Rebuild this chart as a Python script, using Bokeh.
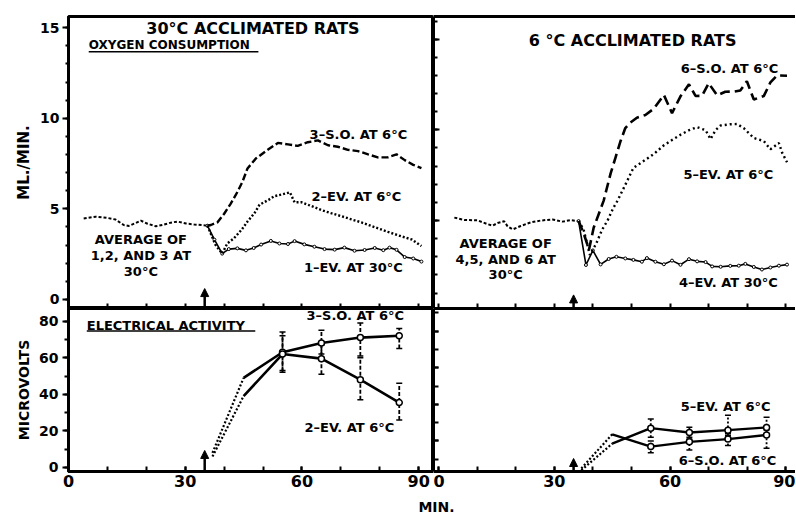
from bokeh.plotting import figure
from bokeh.layouts import column, row
from bokeh.models import (Range1d, Label, Arrow, NormalHead, Whisker, TeeHead,
                          ColumnDataSource, LinearAxis, SingleIntervalTicker,
                          CustomJSTickFormatter)
from bokeh.embed import file_html
from bokeh.resources import INLINE

FONT = "DejaVu Sans"

# ---------------- data ----------------
# time of the change of ambient temperature (arrow), minutes
arrow_time = 35

# --- 30 C acclimated rats: oxygen consumption (ml/min) ---
avg123_t = [3.9, 7.0, 10.0, 12.1, 14.2, 15.5, 17.3, 18.6, 20.3, 22.4, 24.1, 26.3, 28.0, 30.2, 32.3, 34.4, 35.7]
avg123_v = [4.47, 4.57, 4.50, 4.41, 4.11, 4.06, 4.22, 4.35, 4.18, 4.04, 4.11, 4.24, 4.30, 4.19, 4.14, 4.10, 4.07]

ev30_1_t = [35.7, 37.5, 39.5, 41.2, 43.4, 45.6, 47.6, 49.5, 52.0, 54.2, 56.4, 58.1, 60.6, 63.2,
            65.8, 68.4, 70.9, 73.5, 76.1, 78.7, 80.9, 82.5, 84.3, 86.4, 88.6, 90.7]
ev30_1_v = [4.07, 3.30, 2.53, 2.78, 2.82, 2.71, 2.84, 3.03, 3.23, 3.09, 3.06, 3.22, 3.04, 2.91,
            2.78, 2.75, 2.86, 2.69, 2.73, 2.84, 2.72, 2.86, 2.74, 2.34, 2.26, 2.09]

ev6_2_t = [35.7, 37.8, 39.5, 40.8, 42.5, 44.5, 46.0, 47.8, 49.1, 51.5, 52.9, 55.1, 56.9, 58.1,
           59.8, 61.9, 65.0, 67.5, 70.1, 72.7, 75.3, 78.7, 82.1, 85.6, 88.2, 90.7]
ev6_2_v = [4.07, 3.00, 2.53, 3.09, 3.37, 3.85, 4.30, 4.77, 5.23, 5.51, 5.70, 5.81, 5.91, 5.36,
           5.37, 5.20, 4.93, 4.76, 4.60, 4.42, 4.25, 3.99, 3.73, 3.48, 3.31, 2.95]

so6_3_t = [35.7, 36.6, 38.3, 40.0, 41.7, 43.4, 44.7, 46.0, 48.2, 51.2, 53.8, 56.4, 58.9, 61.5,
           64.1, 66.7, 69.2, 71.8, 74.4, 77.0, 79.5, 82.1, 84.3, 86.4, 88.6, 90.7]
so6_3_v = [4.07, 4.11, 4.26, 4.73, 5.29, 5.93, 6.49, 7.23, 7.79, 8.26, 8.64, 8.56, 8.48, 8.68,
           8.78, 8.51, 8.43, 8.26, 8.19, 8.01, 7.84, 7.85, 8.01, 7.69, 7.43, 7.25]

# --- 6 C acclimated rats: oxygen consumption (ml/min) ---
avg456_t = [4.1, 6.7, 10.1, 12.7, 14.0, 15.3, 17.0, 17.9, 19.2, 21.3, 23.9, 26.5, 29.5, 32.1, 34.2, 36.3]
avg456_v = [5.16, 5.03, 5.01, 4.80, 4.72, 4.86, 4.96, 4.68, 4.51, 4.70, 4.90, 5.00, 5.06, 4.94, 5.02, 4.97]

ev30_4_t = [36.3, 38.2, 40.0, 42.0, 44.1, 46.1, 48.4, 50.5, 52.7, 54.0, 56.2, 58.4, 60.5, 62.7,
            64.9, 67.0, 69.2, 70.9, 73.1, 75.6, 77.8, 79.5, 81.7, 83.8, 86.0, 88.2, 90.3]
ev30_4_v = [4.97, 2.55, 3.35, 2.58, 2.88, 3.00, 2.91, 2.83, 2.73, 2.93, 2.73, 2.59, 2.79, 2.56,
            2.87, 2.75, 2.71, 2.47, 2.45, 2.50, 2.51, 2.61, 2.44, 2.30, 2.41, 2.51, 2.57]

ev6_5_t = [36.3, 37.6, 39.2, 40.8, 42.4, 43.8, 45.3, 46.4, 48.4, 50.5, 53.2, 55.8, 58.4, 60.5, 62.7,
           64.9, 67.0, 69.2, 70.5, 71.8, 73.1, 75.6, 77.4, 79.1, 81.7, 84.3, 86.0, 88.2, 89.0, 90.3]
ev6_5_v = [4.97, 4.50, 3.10, 3.70, 4.50, 5.00, 5.70, 6.10, 6.97, 7.90, 8.29, 8.67, 9.15, 9.44, 9.73,
           9.98, 10.15, 9.98, 9.49, 9.99, 10.24, 10.31, 10.32, 10.09, 9.55, 9.38, 8.93, 9.27, 8.76, 8.21]

so6_6_t = [36.3, 37.6, 39.0, 40.2, 42.8, 44.6, 45.9, 47.2, 48.4, 49.7, 51.4, 53.6, 55.8, 58.4, 60.5,
           62.7, 64.9, 66.6, 68.3, 70.0, 72.2, 74.3, 76.5, 78.2, 79.9, 81.7, 84.3, 86.0, 87.7, 90.3]
so6_6_v = [4.97, 4.30, 3.40, 4.60, 6.10, 7.60, 8.50, 9.40, 10.10, 10.40, 10.67, 10.82, 11.17, 11.92, 10.92,
           11.85, 12.51, 11.87, 11.88, 12.57, 11.90, 12.10, 12.11, 12.17, 12.68, 11.67, 11.87, 12.62, 13.00, 12.98]

# --- electrical activity (microvolts) ---
ea_rise_t = [37, 45]          # dotted part
ea_t = [45, 55, 65, 75, 85]   # solid part
ea_err_t = [55, 65, 75, 85]

so3_rise = [8, 49]
so3_v = [49, 63, 68, 71, 72]
so3_lo = [53, 62, 61, 65]
so3_hi = [74, 75, 79, 76]

ev2_rise = [6, 39]
ev2_v = [39, 62, 59.5, 48, 35.5]
ev2_lo = [52, 51, 37, 26]
ev2_hi = [72, 67, 60, 46]

ev5_rise = [4, 18.5]
ev5_v = [18.5, 27, 24.6, 25.9, 27.4]
ev5_lo = [22, 22, 23, 24]
ev5_hi = [32, 27.5, 34, 33]

so6_rise = [5, 23.6]
so6_v = [23.6, 16.9, 19.5, 21.0, 23.3]
so6_lo = [13.5, 15, 17.5, 16]
so6_hi = [20, 21, 24, 26]

# ---------------- helpers ----------------
def base_fig(width, height, xr, yr, left, top, bottom):
    p = figure(width=width, height=height, x_range=Range1d(*xr), y_range=Range1d(*yr),
               output_backend="svg", toolbar_location=None, tools="",
               x_axis_location=None, y_axis_location=None,
               min_border=0, min_border_left=left, min_border_right=0,
               min_border_top=top, min_border_bottom=bottom)
    p.xgrid.grid_line_color = None
    p.ygrid.grid_line_color = None
    p.outline_line_color = None
    p.background_fill_color = "white"
    p.border_fill_color = "white"
    return p


def add_axis(p, side, ticker, major_in=0, major_out=0, minor_in=0, minor_out=0,
             labels=False, label_size="14px", standoff=3,
             axis_label=None, axis_label_size="15px", axis_label_standoff=10):
    ax = LinearAxis(ticker=ticker)
    ax.axis_line_width = 3
    ax.axis_line_color = "black"
    ax.major_tick_line_width = 2
    ax.minor_tick_line_width = 2
    ax.major_tick_line_color = "black"
    ax.minor_tick_line_color = "black"
    ax.major_tick_in = major_in
    ax.major_tick_out = major_out
    ax.minor_tick_in = minor_in
    ax.minor_tick_out = minor_out
    if labels:
        ax.major_label_text_font = FONT
        ax.major_label_text_font_style = "bold"
        ax.major_label_text_font_size = label_size
        ax.major_label_text_color = "black"
        ax.major_label_standoff = standoff
    else:
        ax.formatter = CustomJSTickFormatter(code="return ''")
        ax.major_label_text_font_size = "0px"
        ax.major_label_standoff = 0
    if axis_label:
        ax.axis_label = axis_label
        ax.axis_label_text_font = FONT
        ax.axis_label_text_font_style = "bold"
        ax.axis_label_text_font_size = axis_label_size
        ax.axis_label_text_color = "black"
        ax.axis_label_standoff = axis_label_standoff
    p.add_layout(ax, side)
    return ax


def lab(p, x, y, text, size="13px", align="center", baseline="middle"):
    p.add_layout(Label(x=x, y=y, text=text, text_font=FONT, text_font_style="bold",
                       text_font_size=size, text_align=align, text_baseline=baseline,
                       text_color="black"))


def arrow(p, y_top):
    p.add_layout(Arrow(end=NormalHead(size=8, fill_color="black", line_color="black"),
                       x_start=arrow_time, y_start=p.y_range.start, x_end=arrow_time, y_end=y_top,
                       line_width=2.5, line_color="black"))


def whiskers(p, t, lo, hi, dash):
    src = ColumnDataSource(dict(t=t, lo=lo, hi=hi))
    p.add_layout(Whisker(source=src, base="t", lower="lo", upper="hi", dimension="height",
                         line_width=1.8, line_dash=dash, line_color="black",
                         upper_head=TeeHead(size=6, line_width=1.5),
                         lower_head=TeeHead(size=6, line_width=1.5)))


# ---------------- geometry ----------------
LEFT_W, RIGHT_W = 433, 362
TOP_H, BOT_H, FOOT_H = 308, 185, 22
XL = (0, 93.8)
XR = (-1.3, 92.5)
YT_L = (-0.5, 15.62)
YT_R = (0.15, 16.25)
YB_L = (-2.2, 86.9)
YB_R = (3.3, 92.4)

# ---------------- top-left ----------------
p1 = base_fig(LEFT_W, TOP_H, XL, YT_L, left=68, top=16, bottom=0)
p1.outline_line_color = "black"
p1.outline_line_width = 3
add_axis(p1, "left", SingleIntervalTicker(interval=5, num_minor_ticks=5),
         major_out=6, minor_out=3, labels=True, label_size="14px", standoff=3,
         axis_label="ML./MIN.", axis_label_standoff=4)
add_axis(p1, "below", SingleIntervalTicker(interval=10, num_minor_ticks=0), major_in=5)

p1.line(avg123_t, avg123_v, line_width=2, line_dash="3 2", color="black")
p1.line(ev30_1_t, ev30_1_v, line_width=1.6, color="black")
p1.scatter(ev30_1_t, ev30_1_v, size=3, marker="circle", fill_color="white", line_color="black")
p1.line(ev6_2_t, ev6_2_v, line_width=2.4, line_dash="2 2", color="black")
p1.line(so6_3_t, so6_3_v, line_width=2.4, line_dash="7 3", color="black")
arrow(p1, 0.6)

lab(p1, 47.4, 14.95, "30°C ACCLIMATED RATS", size="16px")
lab(p1, 5.2, 14.03, "OXYGEN CONSUMPTION", size="12px", align="left")
p1.segment(x0=[5.2], y0=[13.68], x1=[48.8], y1=[13.68], line_width=1.5, color="black")
lab(p1, 74.5, 9.1, "3–S.O. AT 6°C")
lab(p1, 74.0, 5.7, "2–EV. AT 6°C")
lab(p1, 73.2, 1.75, "1–EV. AT 30°C")
lab(p1, 18.6, 3.3, "AVERAGE OF")
lab(p1, 18.6, 2.4, "1,2, AND 3 AT")
lab(p1, 18.6, 1.55, "30°C")

# ---------------- top-right ----------------
p2 = base_fig(RIGHT_W, TOP_H, XR, YT_R, left=0, top=16, bottom=0)
add_axis(p2, "left", SingleIntervalTicker(interval=5, num_minor_ticks=5), major_in=6, minor_in=4)
add_axis(p2, "below", SingleIntervalTicker(interval=10, num_minor_ticks=0), major_in=5)
add_axis(p2, "above", SingleIntervalTicker(interval=100, num_minor_ticks=0))

p2.line(avg456_t, avg456_v, line_width=2, line_dash="3 2", color="black")
p2.line(ev30_4_t, ev30_4_v, line_width=1.6, color="black")
p2.scatter(ev30_4_t, ev30_4_v, size=3, marker="circle", fill_color="white", line_color="black")
p2.line(ev6_5_t, ev6_5_v, line_width=2.4, line_dash="2 3", color="black")
p2.line(so6_6_t, so6_6_v, line_width=2.6, line_dash="10 5", color="black")
arrow(p2, 0.9)

lab(p2, 50.3, 14.9, "6 °C ACCLIMATED RATS", size="16px")
lab(p2, 75.4, 13.4, "6–S.O. AT 6°C")
lab(p2, 75.1, 7.55, "5–EV. AT 6°C")
lab(p2, 75.1, 1.6, "4–EV. AT 30°C")
lab(p2, 17.4, 3.75, "AVERAGE OF")
lab(p2, 17.4, 2.87, "4,5, AND 6 AT")
lab(p2, 17.4, 2.03, "30°C")

# ---------------- bottom-left ----------------
p3 = base_fig(LEFT_W, BOT_H, XL, YB_L, left=68, top=0, bottom=22)
p3.outline_line_color = "black"
p3.outline_line_width = 3
add_axis(p3, "left", SingleIntervalTicker(interval=20, num_minor_ticks=2),
         major_out=6, minor_out=4, labels=True, label_size="14px", standoff=4,
         axis_label="MICROVOLTS", axis_label_size="14px", axis_label_standoff=4)
add_axis(p3, "below", SingleIntervalTicker(interval=30, num_minor_ticks=3),
         major_in=5, minor_in=5, labels=True, label_size="16px", standoff=3)

for rise, vals, lo, hi in [(so3_rise, so3_v, so3_lo, so3_hi), (ev2_rise, ev2_v, ev2_lo, ev2_hi)]:
    p3.line(ea_rise_t, rise, line_width=2.2, line_dash="2 2", color="black")
    p3.line(ea_t, vals, line_width=2.6, color="black")
    p3.scatter(ea_t[1:], vals[1:], size=6, marker="circle", fill_color="white",
               line_color="black", line_width=1.5)
    whiskers(p3, ea_err_t, lo, hi, "4 2")
arrow(p3, 9.3)

lab(p3, 4.7, 77.5, "ELECTRICAL ACTIVITY", size="13px", align="left")
p3.segment(x0=[4.7], y0=[74.6], x1=[48.0], y1=[74.6], line_width=1.5, color="black")
lab(p3, 73.7, 83.1, "3–S.O. AT 6°C")
lab(p3, 72.2, 21.7, "2–EV. AT 6°C")

# ---------------- bottom-right ----------------
p4 = base_fig(RIGHT_W, BOT_H, XR, YB_R, left=0, top=0, bottom=22)
add_axis(p4, "left", SingleIntervalTicker(interval=20, num_minor_ticks=2), major_in=5, minor_in=5)
add_axis(p4, "below", SingleIntervalTicker(interval=30, num_minor_ticks=3),
         major_in=5, minor_in=5, labels=True, label_size="16px", standoff=3)
add_axis(p4, "above", SingleIntervalTicker(interval=1000, num_minor_ticks=0))

for rise, vals, lo, hi in [(ev5_rise, ev5_v, ev5_lo, ev5_hi), (so6_rise, so6_v, so6_lo, so6_hi)]:
    p4.line(ea_rise_t, rise, line_width=2.2, line_dash="2 2", color="black")
    p4.line(ea_t, vals, line_width=2.4, color="black")
    p4.scatter(ea_t[1:], vals[1:], size=6, marker="circle", fill_color="white",
               line_color="black", line_width=1.5)
    whiskers(p4, ea_err_t, lo, hi, "2 2")
arrow(p4, 10.4)

lab(p4, 74.4, 38.9, "5–EV. AT 6°C")
lab(p4, 74.9, 9.3, "6–S.O. AT 6°C")

# ---------------- footer with the shared x label ----------------
p5 = figure(width=LEFT_W + RIGHT_W, height=FOOT_H, x_range=Range1d(0, LEFT_W + RIGHT_W),
            y_range=Range1d(0, FOOT_H), output_backend="svg", toolbar_location=None, tools="",
            x_axis_location=None, y_axis_location=None, min_border=0)
p5.xgrid.grid_line_color = None
p5.ygrid.grid_line_color = None
p5.outline_line_color = None
p5.add_layout(Label(x=LEFT_W + 3, y=FOOT_H - 13, text="MIN.", text_font=FONT,
                    text_font_style="bold", text_font_size="14px", text_align="center",
                    text_baseline="middle", text_color="black"))

layout = column(row(p1, p2), row(p3, p4), p5)
open("out.html", "w").write(file_html(layout, INLINE))
